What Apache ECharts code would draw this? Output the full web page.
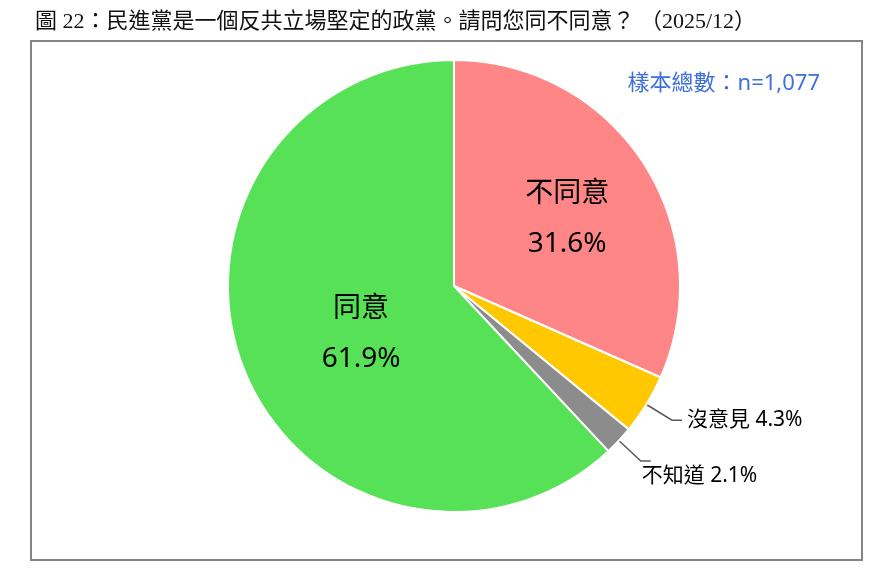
<!DOCTYPE html>
<html>
<head>
<meta charset="utf-8">
<script src="https://cdn.jsdelivr.net/npm/echarts@6/dist/echarts.min.js"></script>
<style>
html,body{margin:0;padding:0;background:#fff;}
#c{width:896px;height:578px;}
</style>
</head>
<body>
<div id="c"></div>
<script>
const titleText = '圖 22：民進黨是一個反共立場堅定的政黨。請問您同不同意？ （2025/12）';
const sampleText = '樣本總數：n=1,077';
const categories = ['不同意', '沒意見', '不知道', '同意'];
const values = [31.6, 4.3, 2.1, 61.9];
const insideLabels = ['不同意', '同意'];

const sliceColors = ['#FF8686', '#FFC800', '#8C8C8C', '#56E156'];
const sansFont = "'Noto Sans', 'Noto Sans CJK TC', sans-serif";

const chart = echarts.init(document.getElementById('c'), null, {renderer: 'canvas'});

const data = categories.map((name, i) => {
  const inside = insideLabels.includes(name);
  const item = {
    name: name,
    value: values[i],
    itemStyle: {color: sliceColors[i]}
  };
  if (inside) {
    item.label = {
      show: true,
      position: 'inside',
      formatter: '{b}\n{c}%',
      fontSize: 28,
      lineHeight: 50,
      color: '#000',
      fontFamily: sansFont
    };
    item.labelLine = {show: false};
  } else {
    item.label = {
      show: true,
      position: 'outside',
      formatter: '{b} {c}%',
      fontSize: 21,
      color: '#000',
      fontFamily: sansFont
    };
  }
  return item;
});

const option = {
  backgroundColor: '#fff',
  animation: false,
  title: [
    {
      text: titleText,
      left: 30,
      top: 6,
      textStyle: {
        fontSize: 22,
        fontWeight: 'normal',
        color: '#111',
        fontFamily: "'Liberation Serif', 'Noto Sans CJK TC', serif"
      }
    },
    {
      text: sampleText,
      right: 71,
      top: 68,
      textStyle: {
        fontSize: 22,
        fontWeight: 'normal',
        color: '#3E6FDC',
        fontFamily: sansFont
      }
    }
  ],
  graphic: [
    {
      type: 'rect',
      z: -10,
      shape: {x: 31, y: 41, width: 831, height: 519},
      style: {fill: 'none', stroke: '#858585', lineWidth: 2}
    }
  ],
  series: [
    {
      type: 'pie',
      center: [454, 286],
      radius: 226,
      startAngle: 90,
      clockwise: true,
      avoidLabelOverlap: false,
      itemStyle: {borderColor: '#fff', borderWidth: 2},
      label: {fontFamily: sansFont},
      labelLine: {
        show: true,
        length: 30,
        length2: 10,
        lineStyle: {color: '#595959', width: 1.5}
      },
      labelLayout: function (p) {
        if (p.dataIndex === 0) return {dx: 16, dy: -4};
        if (p.dataIndex === 2) return {dx: -14, dy: 15};
        if (p.dataIndex === 3) return {dx: 15, dy: 5};
        return {};
      },
      emphasis: {disabled: true},
      data: data
    }
  ]
};
chart.setOption(option);
</script>
</body>
</html>
